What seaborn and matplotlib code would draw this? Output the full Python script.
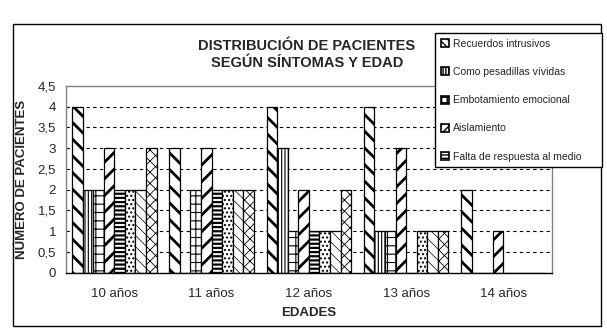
import pandas as pd
import numpy as np
import matplotlib
matplotlib.use("Agg")
import matplotlib.pyplot as plt
from matplotlib.patches import Patch, Rectangle
import seaborn as sns

# Datos
edades = ["10 años", "11 años", "12 años", "13 años", "14 años"]
sintomas = [
    "Recuerdos intrusivos",
    "Como pesadillas vívidas",
    "Embotamiento emocional",
    "Aislamiento",
    "Falta de respuesta al medio",
    "Síntoma 6",
    "Síntoma 7",
    "Síntoma 8",
]
recuerdos = [4, 3, 4, 4, 2]
pesadillas = [2, 0, 3, 1, 0]
embotamiento = [2, 2, 1, 1, 0]
aislamiento = [3, 3, 2, 3, 1]
falta_respuesta = [2, 2, 1, 0, 0]
sintoma6 = [2, 2, 1, 1, 0]
sintoma7 = [2, 2, 1, 1, 0]
sintoma8 = [3, 2, 2, 1, 0]
valores = [recuerdos, pesadillas, embotamiento, aislamiento,
           falta_respuesta, sintoma6, sintoma7, sintoma8]
yticks = [0, 0.5, 1, 1.5, 2, 2.5, 3, 3.5, 4, 4.5]

rows = []
for s, vals in zip(sintomas, valores):
    for e, v in zip(edades, vals):
        rows.append({"edad": e, "sintoma": s, "n": v})
df = pd.DataFrame(rows)

sns.set_style("white")
plt.rcParams["font.family"] = ["Liberation Sans", "DejaVu Sans"]

# estilo de trama por serie: (hatch, grosor de linea)
tramas = [("\\\\", 2.0), ("|||||", 0.8), ("++", 0.8), ("//", 2.0),
          ("----", 1.6), ("....", 1.0), ("\\\\\\", 0.5), ("xxx", 0.6)]
tramas_leyenda = ["\\\\\\\\", "||||||", "+++", "////", "-----"]

W, H = 607, 332
fig = plt.figure(figsize=(W / 100, H / 100), dpi=100)
ax = fig.add_axes([65.7 / W, 1 - 272.7 / H, (552 - 65.7) / W, (272.7 - 85.9) / H])

sns.barplot(data=df, x="edad", y="n", hue="sintoma", order=edades,
            hue_order=sintomas, palette=["white"] * len(sintomas),
            edgecolor="black", linewidth=0.9, width=0.87, gap=0,
            saturation=1, legend=False, ax=ax)

for cont, (h, lw) in zip(ax.containers, tramas):
    for p in cont.patches:
        p.set_hatch(h)
        if hasattr(p, "set_hatch_linewidth"):
            p.set_hatch_linewidth(lw)

ax.set_xlim(-0.5, len(edades) - 0.5)
ax.set_ylim(0, 4.5)
ax.set_yticks(yticks)
ax.set_yticklabels([("%g" % t).replace(".", ",") for t in yticks])
ax.tick_params(axis="y", length=0, pad=7, labelsize=9.5)
ax.tick_params(axis="x", which="major", length=0, pad=11, labelsize=9.5)
ax.set_xticks(np.arange(-0.5, len(edades), 1.0), minor=True)
ax.tick_params(axis="x", which="minor", length=4, width=1, color="black",
               direction="out")

ax.set_axisbelow(True)
ax.yaxis.grid(True, color="black", linestyle=(0, (3, 3)), linewidth=0.8)
ax.get_ygridlines()[-1].set_visible(False)
ax.get_ygridlines()[0].set_visible(False)

for side in ["left", "top", "right"]:
    ax.spines[side].set_color("#808080")
    ax.spines[side].set_linewidth(1)
ax.spines["bottom"].set_color("black")
ax.spines["bottom"].set_linewidth(1)

ax.set_xlabel("EDADES", fontweight="bold", fontsize=9.5)
ax.set_ylabel("NÚMERO DE PACIENTES", fontweight="bold", fontsize=9.5)
ax.xaxis.set_label_coords(0.5, -0.185)
ax.yaxis.set_label_coords(-0.078, 0.5)

fig.text(307 / W, 1 - 54.4 / H, "DISTRIBUCIÓN DE PACIENTES\nSEGÚN SÍNTOMAS Y EDAD",
         ha="center", va="center", fontweight="bold", fontsize=10.5,
         linespacing=1.3)

# borde exterior del grafico
fig.patches.append(Rectangle((13.3 / W, 1 - 326 / H), (600.7 - 13.3) / W,
                             (326 - 24) / H, transform=fig.transFigure,
                             fill=False, edgecolor="black", linewidth=1))

handles = [Patch(facecolor="white", edgecolor="black", hatch=h, linewidth=1.2)
           for h in tramas_leyenda]
leg = fig.legend(handles, sintomas[:5], loc="upper left",
                 bbox_to_anchor=(435 / W, 1 - 163 / H, (602 - 435) / W, 130 / H),
                 mode="expand", fontsize=7.5, frameon=True, fancybox=False,
                 edgecolor="black", framealpha=1, handlelength=0.8,
                 handleheight=0.8, handletextpad=0.35, labelspacing=1.75,
                 borderpad=0.55, borderaxespad=0)
leg.get_frame().set_linewidth(1)

fig.savefig("out.png", dpi=100)
